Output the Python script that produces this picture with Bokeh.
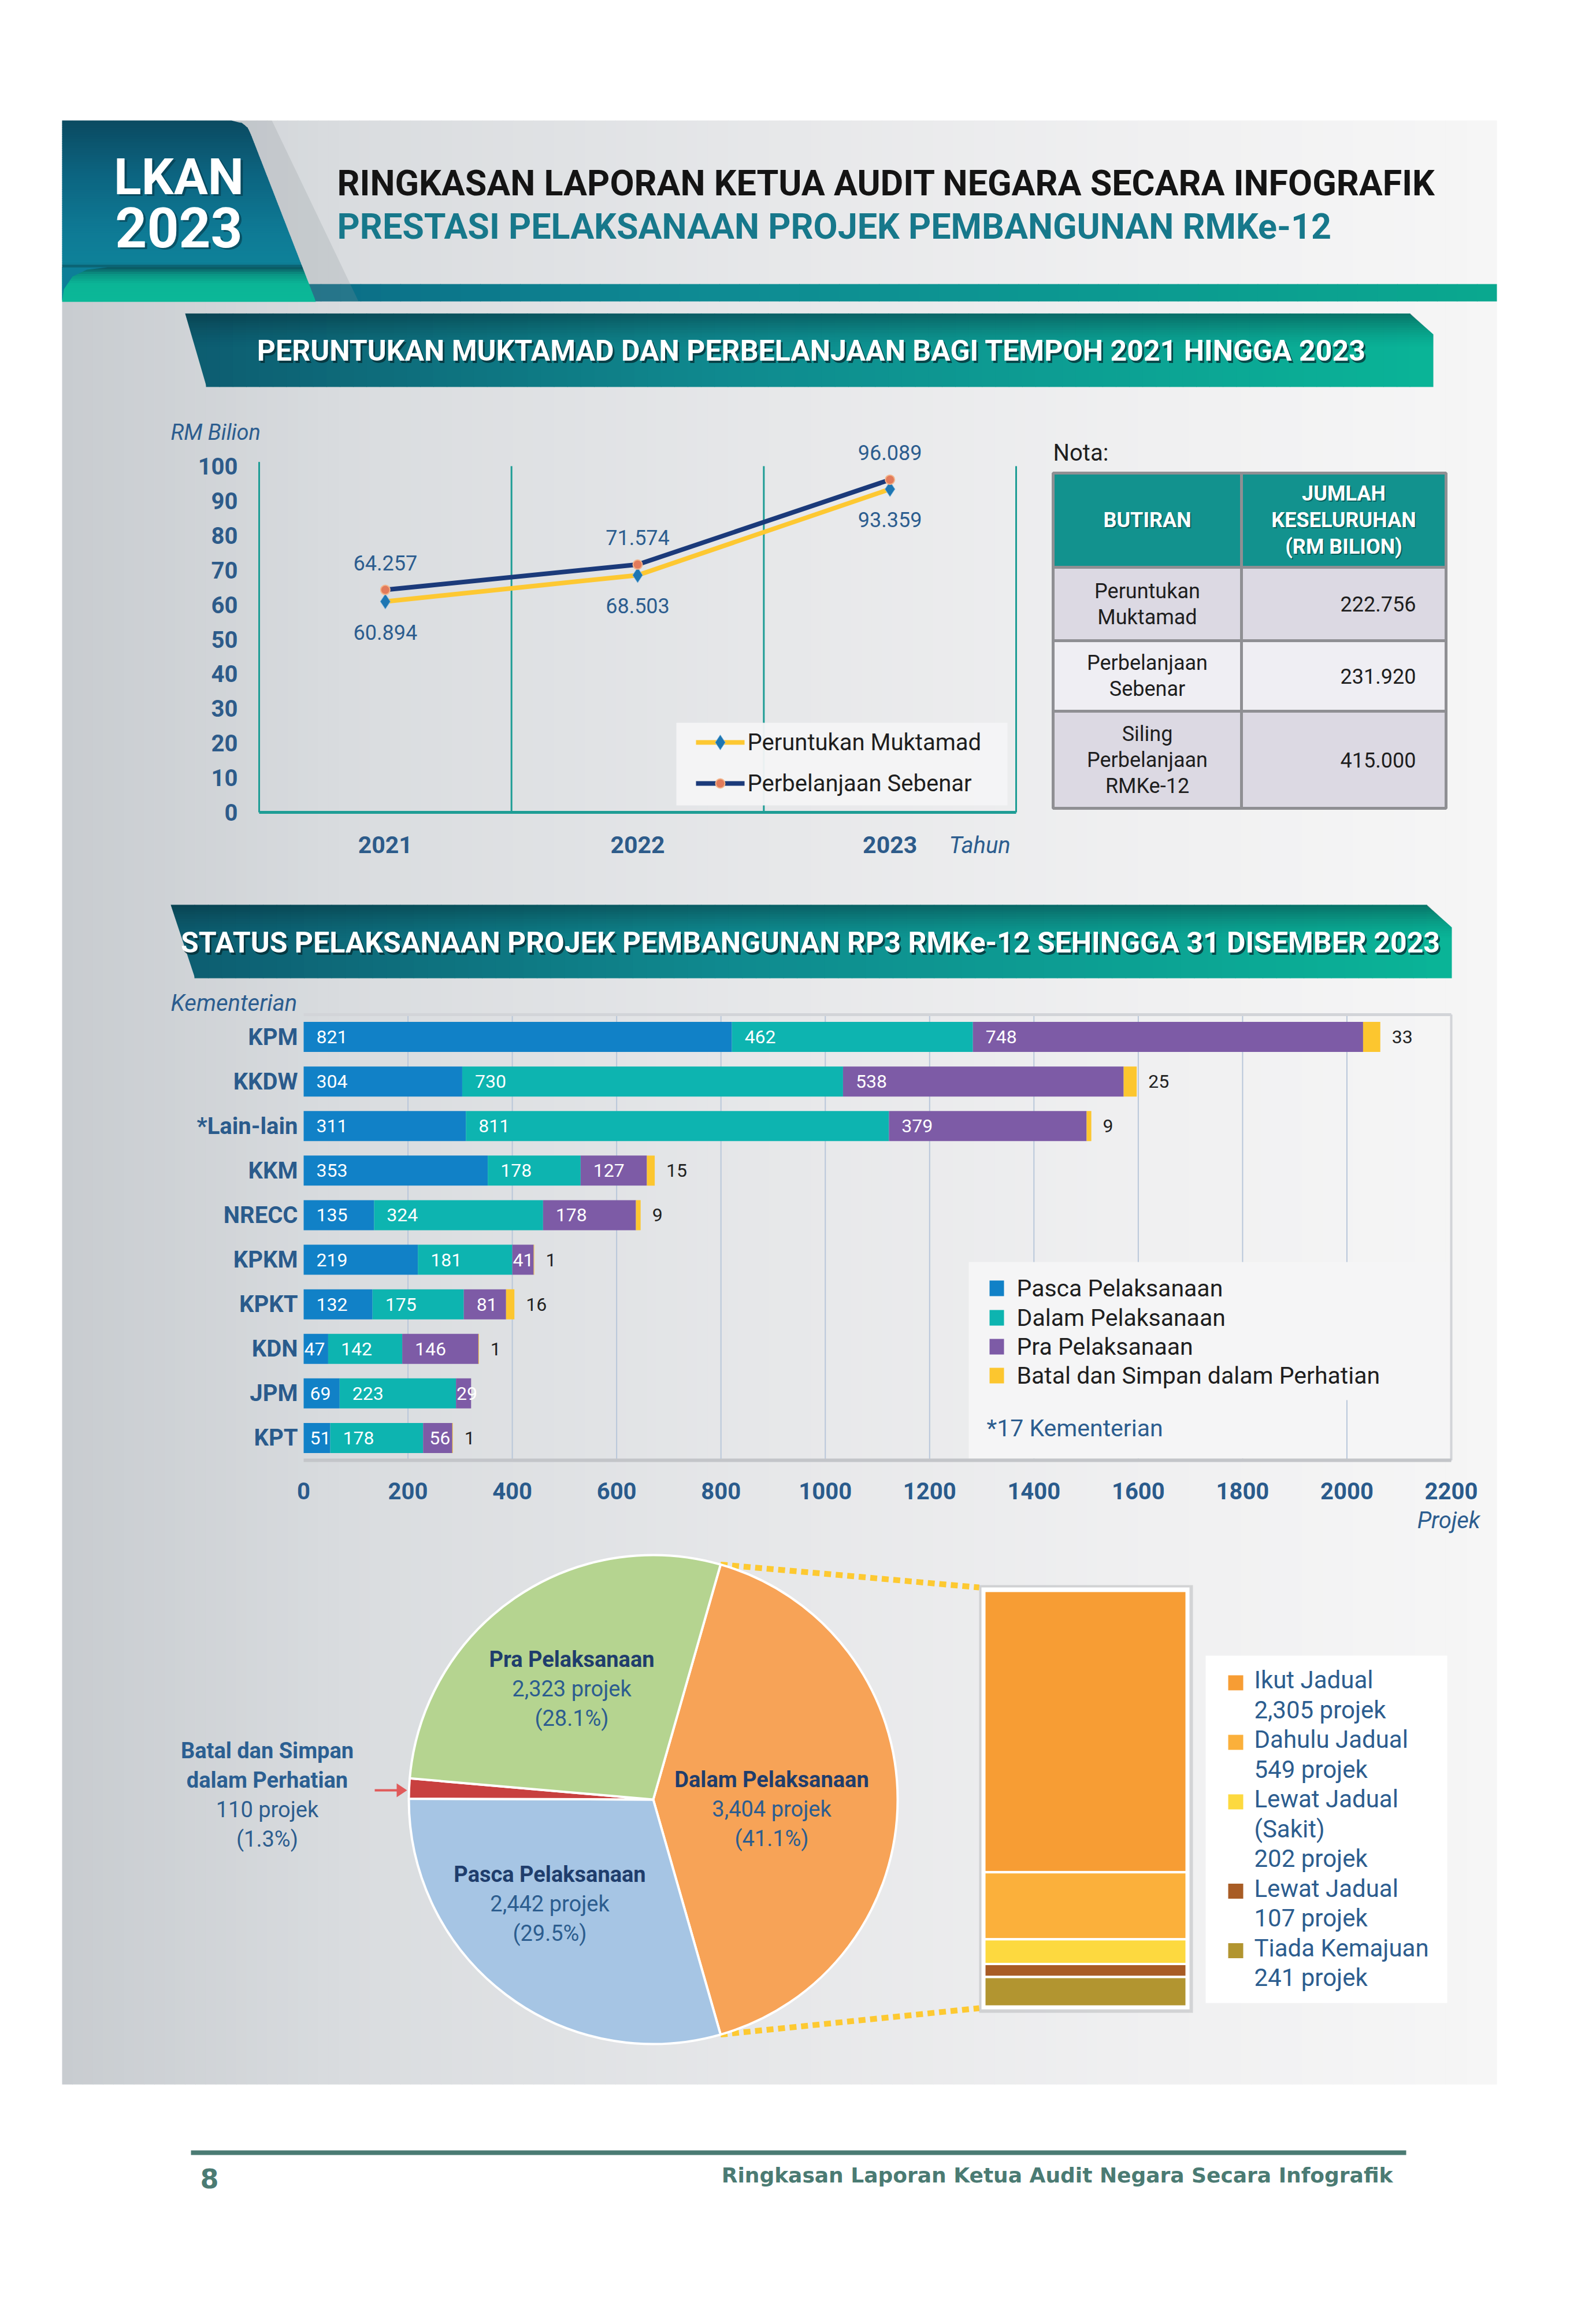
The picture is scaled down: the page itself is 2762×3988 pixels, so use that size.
import numpy as np
from bokeh.plotting import figure
from bokeh.models import Range1d, ColumnDataSource
from bokeh.core.properties import value
from bokeh.embed import file_html
from bokeh.resources import INLINE

# ---------------- data ----------------
years = ["2021", "2022", "2023"]
peruntukan_muktamad = [60.894, 68.503, 93.359]
perbelanjaan_sebenar = [64.257, 71.574, 96.089]
line_y_ticks = [0, 10, 20, 30, 40, 50, 60, 70, 80, 90, 100]
line_series_names = ["Peruntukan Muktamad", "Perbelanjaan Sebenar"]

table_header = [["BUTIRAN"], ["JUMLAH", "KESELURUHAN", "(RM BILION)"]]
table_items = [["Peruntukan", "Muktamad"], ["Perbelanjaan", "Sebenar"],
               ["Siling", "Perbelanjaan", "RMKe-12"]]
table_values = ["222.756", "231.920", "415.000"]

ministries = ["KPM", "KKDW", "*Lain-lain", "KKM", "NRECC", "KPKM", "KPKT", "KDN", "JPM", "KPT"]
pasca = [821, 304, 311, 353, 135, 219, 132, 47, 69, 51]
dalam = [462, 730, 811, 178, 324, 181, 175, 142, 223, 178]
pra = [748, 538, 379, 127, 178, 41, 81, 146, 29, 56]
batal = [33, 25, 9, 15, 9, 1, 16, 1, 0, 1]
bar_x_ticks = [0, 200, 400, 600, 800, 1000, 1200, 1400, 1600, 1800, 2000, 2200]
bar_series_names = ["Pasca Pelaksanaan", "Dalam Pelaksanaan", "Pra Pelaksanaan",
                    "Batal dan Simpan dalam Perhatian"]

pie_names = [["Dalam Pelaksanaan"], ["Pasca Pelaksanaan"],
             ["Batal dan Simpan", "dalam Perhatian"], ["Pra Pelaksanaan"]]
pie_values = [3404, 2442, 110, 2323]

dalam_names = [["Ikut Jadual"], ["Dahulu Jadual"], ["Lewat Jadual", "(Sakit)"],
               ["Lewat Jadual"], ["Tiada Kemajuan"]]
dalam_values = [2305, 549, 202, 107, 241]

# ---------------- page setup ----------------
W, H = 2762, 3988
FONT = "Roboto"
BLUE_TXT = "#2c5d8f"
NAVY_TXT = "#1f3d6c"
TEAL_LINE = "#1e9d95"
PANEL_R = 2590


def X(x):
    return float(x)


def Y(y):
    return float(H - y)


def hex2rgb(h):
    h = h.lstrip("#")
    return [int(h[i:i + 2], 16) for i in (0, 2, 4)]


def rgb2hex(c):
    return "#%02x%02x%02x" % tuple(int(round(v)) for v in c)


def grad(stops, t):
    ps_ = [s[0] for s in stops]
    rgbs = np.array([hex2rgb(s[1]) for s in stops], float)
    return rgb2hex([np.interp(t, ps_, rgbs[:, k]) for k in range(3)])


p = figure(width=W, height=H, x_range=Range1d(0, W), y_range=Range1d(0, H),
           x_axis_type=None, y_axis_type=None, output_backend="svg",
           toolbar_location=None, min_border=0)
p.outline_line_color = None
p.background_fill_color = "#ffffff"
p.border_fill_color = "#ffffff"


def data_ranges(name, dx0, dx1, px0, px1, dy0, dy1, py0, py1):
    """Linear data ranges whose values land on the given page positions."""
    kx = (dx1 - dx0) / (px1 - px0)
    ky = (dy1 - dy0) / (py1 - py0)
    p.extra_x_ranges[name] = Range1d(dx0 + (p.x_range.start - px0) * kx,
                                     dx0 + (p.x_range.end - px0) * kx)
    p.extra_y_ranges[name] = Range1d(dy0 + (p.y_range.start - py0) * ky,
                                     dy0 + (p.y_range.end - py0) * ky)
    return dict(x_range_name=name, y_range_name=name)


def T(xs, ys, texts, size, color="#222222", style="normal", align="left",
      baseline="middle", font=FONT, alpha=1.0):
    size = min(size, 96)
    if not isinstance(texts, (list, tuple)):
        texts = [texts]
    if not isinstance(xs, (list, tuple)):
        xs = [xs] * len(texts)
    if not isinstance(ys, (list, tuple)):
        ys = [ys] * len(texts)
    p.text(x=[X(v) for v in xs], y=[Y(v) for v in ys], text=list(texts),
           text_font=value(font), text_font_size=f"{size}px", text_font_style=style,
           text_color=color, text_align=align, text_baseline=baseline, text_alpha=alpha)


def Q(l, r, t, b, color, alpha=1.0, line_color=None, line_width=1):
    p.quad(left=[X(l)], right=[X(r)], top=[Y(t)], bottom=[Y(b)],
           fill_color=color, fill_alpha=alpha, line_color=line_color, line_width=line_width)


def hstrips(x0, x1, y0, y1, stops, n=80):
    xs = np.linspace(x0, x1, n + 1)
    cols = [grad(stops, (xs[i] + xs[i + 1]) / 2) for i in range(n)]
    rights = [X(v) + 0.8 for v in xs[1:]]
    rights[-1] = X(x1)
    p.quad(left=[X(v) for v in xs[:-1]], right=rights,
           top=[Y(y0)] * n, bottom=[Y(y1)] * n, fill_color=cols, line_color=None)


def banner_shape(xl_top, xl_bot, xr_top, xr_mid, y_top, y_mid, y_bot):
    stops = [(xl_top, "#0d5c70"), ((xl_top + xr_mid) * 0.45, "#0f8a8f"), (xr_mid, "#0ab497")]
    hstrips(xl_bot, xr_top, y_top, y_bot, stops, n=90)
    p.patch(x=[X(xl_top), X(xl_bot + 1), X(xl_bot + 1)], y=[Y(y_top), Y(y_top), Y(y_bot)],
            fill_color=grad(stops, xl_bot), line_color=None)
    p.patch(x=[X(xr_top - 1), X(xr_mid), X(xr_mid), X(xr_top - 1)],
            y=[Y(y_top), Y(y_mid), Y(y_bot), Y(y_bot)],
            fill_color=grad(stops, xr_mid), line_color=None)
    hh = y_bot - y_top
    nb = 14

    def lx(y):
        return xl_top + (xl_bot - xl_top) * (y - y_top) / (y_bot - y_top)

    def rx(y):
        return xr_top + (xr_mid - xr_top) * min(1.0, (y - y_top) / (y_mid - y_top))
    for i in range(nb):
        a0 = y_top + hh * 0.45 * i / nb
        a1 = y_top + hh * 0.45 * (i + 1) / nb
        p.patch(x=[X(lx(a0)), X(rx(a0)), X(rx(a1)), X(lx(a1))],
                y=[Y(a0), Y(a0), Y(a1), Y(a1)], fill_color="#04222a",
                fill_alpha=float(0.42 * (1 - i / nb) ** 1.5), line_color=None)


def banner_text(text, tx, ty, size):
    T(tx + 3, ty + 4, text, size, "#062a30", "bold", "center", alpha=0.75)
    T(tx, ty, text, size, "#ffffff", "bold", "center")


# ---------------- grey panel ----------------
hstrips(107, PANEL_R, 208, 3606, [(107, "#c8ccd0"), (600, "#d9dcdf"), (1300, "#e6e7e9"),
                                  (2000, "#f0f0f1"), (PANEL_R, "#f6f6f6")], n=140)

# ---------------- header ----------------
hstrips(520, PANEL_R, 491, 521, [(520, "#0b6c86"), (1200, "#0e8a93"), (PANEL_R, "#0aa88f")],
        n=60)
p.patch(x=[X(v) for v in [400, 470, 620, 546]], y=[Y(v) for v in [208, 208, 521, 521]],
        fill_color="#8a9296", fill_alpha=0.22, line_color=None)
edge_y = [208, 212, 220, 233, 521]
edge_x = [400, 418, 428, 434, 546]
box_stops = [(208, "#0b4a61"), (300, "#0c6480"), (400, "#0e7a95"), (455, "#0e8199"),
             (462, "#0a5562"), (474, "#0a9483"), (490, "#0bb596"), (521, "#0bb898")]
ys_ = np.linspace(208, 521, 80)
for i in range(len(ys_) - 1):
    y0, y1 = ys_[i], ys_[i + 1] + 0.8
    xr0, xr1 = np.interp(y0, edge_y, edge_x), np.interp(y1, edge_y, edge_x)
    p.patch(x=[X(107), X(xr0), X(xr1), X(107)], y=[Y(y0), Y(y0), Y(y1), Y(y1)],
            fill_color=grad(box_stops, (ys_[i] + ys_[i + 1]) / 2), line_color=None)
p.patch(x=[X(107), X(186), X(150), X(125), X(110), X(107)],
        y=[Y(462), Y(462), Y(466), Y(478), Y(500), Y(520)],
        fill_color="#0d7f98", line_color=None)
banner_shape(320, 356, 2440, 2480, 542, 578, 669)

# ---------------- line chart + table ----------------
col_x = [1822, 2148, 2502]
row_y = [818, 981, 1108, 1230, 1398]
row_fill = ["#12928e", "#dcd9e3", "#efeef3", "#dcd9e3"]
for r in range(4):
    for c in range(2):
        Q(col_x[c], col_x[c + 1], row_y[r], row_y[r + 1], row_fill[r],
          line_color="#8f8f93", line_width=5)

rnl = data_ranges("line", -0.5, len(years) - 0.5, X(448), X(1758), 0, 100, Y(1405), Y(806))
xi = list(range(len(years)))
bounds = [i - 0.5 for i in range(len(years) + 1)]
p.segment(x0=bounds, y0=[0] * len(bounds), x1=bounds, y1=[101.2] + [100] * (len(bounds) - 1),
          line_color=TEAL_LINE, line_width=3, **rnl)
p.segment(x0=[-0.5], y0=[0], x1=[len(years) - 0.5], y1=[0], line_color=TEAL_LINE,
          line_width=5, **rnl)
YEL, NAVY = "#fdc832", "#1b3a7a"
p.line(x=xi, y=peruntukan_muktamad, line_color=YEL, line_width=8, line_join="round", **rnl)
p.line(x=xi, y=perbelanjaan_sebenar, line_color=NAVY, line_width=8, line_join="round", **rnl)
p.scatter(x=xi, y=peruntukan_muktamad, marker="diamond", size=26, fill_color="#1d76b3",
          line_color="#7fb6dd", line_width=1, **rnl)
p.scatter(x=xi, y=perbelanjaan_sebenar, marker="circle", size=16, fill_color="#e27b5b",
          line_color="#f3b48a", line_width=2, **rnl)
Q(1170, 1743, 1250, 1393, "#f4f4f6", alpha=0.95)
p.line(x=[X(1204), X(1288)], y=[Y(1284), Y(1284)], line_color=YEL, line_width=8)
p.scatter(x=[X(1246)], y=[Y(1284)], marker="diamond", size=26, fill_color="#1d76b3",
          line_color="#7fb6dd")
p.line(x=[X(1204), X(1288)], y=[Y(1355), Y(1355)], line_color=NAVY, line_width=8)
p.scatter(x=[X(1246)], y=[Y(1355)], marker="circle", size=16, fill_color="#e27b5b",
          line_color="#f3b48a", line_width=2)

# ---------------- bar chart shapes ----------------
banner_shape(295, 336, 2469, 2512, 1565, 1604, 1692)
n = len(ministries)
rnb = data_ranges("bar", 0, 2200, X(525), X(2511), -0.5, n - 0.5, Y(1755), Y(2526))
yi = list(range(n))
p.segment(x0=bar_x_ticks[1:], y0=[-0.5] * (len(bar_x_ticks) - 1), x1=bar_x_ticks[1:],
          y1=[n - 0.5] * (len(bar_x_ticks) - 1), line_color="#b9c7da", line_width=2, **rnb)
p.segment(x0=[0], y0=[-0.5], x1=[2200], y1=[-0.5], line_color="#d2d4d8", line_width=5, **rnb)
Q(1676, 2509, 2183, 2523, "#f5f5f6")
p.segment(x0=[2000], y0=[8.15], x1=[2000], y1=[n - 0.5], line_color="#b9c7da",
          line_width=2, **rnb)
p.segment(x0=[2200], y0=[-0.5], x1=[2200], y1=[n - 0.5], line_color="#d2d4d8",
          line_width=4, **rnb)
p.segment(x0=[0], y0=[n - 0.5], x1=[2200], y1=[n - 0.5], line_color="#c3c5c9",
          line_width=6, **rnb)
cols_bar = ["#1181c7", "#0db4b0", "#7d5ba6", "#fcc62f"]
series = [pasca, dalam, pra, batal]
lefts = np.zeros(n)
ppu = (2511 - 525) / 2200
label_sources = []
for k, s in enumerate(series):
    s = np.array(s, float)
    p.hbar(y=yi, left=[float(v) for v in lefts], right=[float(v) for v in lefts + s],
           height=0.675, fill_color=cols_bar[k], line_color=None, **rnb)
    if k < 3:
        offs = [22 if v * ppu > 65 else (11 if v * ppu > 44 else 1) for v in s]
        label_sources.append(ColumnDataSource(dict(x=[float(v) for v in lefts], y=yi,
                                                   t=[str(int(v)) for v in s], o=offs)))
    lefts = lefts + s
leg_y = [2228, 2279, 2329, 2379]
for k in range(4):
    Q(1712, 1737, leg_y[k] - 13, leg_y[k] + 14, cols_bar[k])

# ---------------- pie + breakdown shapes ----------------
PCX, PCY, PR = 1130, 3113, 423
tot = float(sum(pie_values))
ang = np.array(pie_values) / tot * 2 * np.pi
theta0 = float(ang[0] / 2)
ends = theta0 - np.cumsum(ang)
starts = np.concatenate([[theta0], ends[:-1]])
top_pt = (PCX + PR * np.cos(theta0), PCY - PR * np.sin(theta0))
bot_pt = (PCX + PR * np.cos(-theta0), PCY - PR * np.sin(-theta0))
p.line(x=[X(top_pt[0]), X(1694)], y=[Y(top_pt[1]), Y(2746)],
       line_color="#fdc931", line_width=10, line_dash="12 8")
p.line(x=[X(bot_pt[0]), X(1694)], y=[Y(bot_pt[1]), Y(3474)],
       line_color="#fdc931", line_width=10, line_dash="12 8")
rnp = data_ranges("pie", -1, 1, X(PCX - PR), X(PCX + PR), -1, 1, Y(PCY + PR), Y(PCY - PR))
pie_cols = ["#f7a357", "#a6c5e4", "#c8403f", "#b5d490"]
p.wedge(x=[0.0] * 4, y=[0.0] * 4, radius=1, start_angle=[float(v) for v in starts],
        end_angle=[float(v) for v in ends], direction="clock", fill_color=pie_cols,
        line_color="#ffffff", line_width=4, **rnp)
p.line(x=[X(648), X(690)], y=[Y(3097), Y(3097)], line_color="#e05a5a", line_width=4)
p.patch(x=[X(686), X(704), X(686)], y=[Y(3085), Y(3097), Y(3109)], fill_color="#e05a5a",
        line_color=None)
Q(1694, 2064, 2742, 3482, "#8f9296", alpha=0.3)
Q(1698, 2058, 2746, 3476, "#ffffff")
dtot = float(sum(dalam_values))
rns = data_ranges("stack", 0, 1, X(1703), X(2053), 0, dtot, Y(3471), Y(2752))
cum = np.cumsum(dalam_values)
tops = dtot - cum + np.array(dalam_values)
bots = dtot - cum
st_cols = ["#f79d34", "#fbb03b", "#fdd93f", "#a85c25", "#b29530"]
p.quad(left=[0.0] * 5, right=[1.0] * 5, top=[float(v) for v in tops],
       bottom=[float(v) for v in bots], fill_color=st_cols, line_color="#ffffff",
       line_width=4, **rns)
Q(2086, 2504, 2864, 3465, "#ffffff")
yline = 2906
leg_lines = []
for k in range(len(dalam_values)):
    lines = dalam_names[k] + [f"{dalam_values[k]:,} projek"]
    Q(2125, 2151, yline - 8, yline + 18, st_cols[k])
    leg_lines.append((yline, lines))
    yline += 51.5 * len(lines)

# ---------------- footer shape ----------------
Q(330, 2433, 3720, 3728, "#4b7b73")

# =============== all texts ===============
T(313, 308, "LKAN", 88, "#06323f", "bold", "center", alpha=0.55)
T(309, 305, "LKAN", 88, "#ffffff", "bold", "center")
T(313, 396, "2023", 96, "#06323f", "bold", "center", alpha=0.55)
T(309, 393, "2023", 96, "#ffffff", "bold", "center")
T(583, 316, "RINGKASAN LAPORAN KETUA AUDIT NEGARA SECARA INFOGRAFIK", 61, "#141414", "bold")
T(583, 391, "PRESTASI PELAKSANAAN PROJEK PEMBANGUNAN RMKe-12", 61, "#17788b", "bold")
banner_text("PERUNTUKAN MUKTAMAD DAN PERBELANJAAN BAGI TEMPOH 2021 HINGGA 2023", 1404, 606, 50)

p.text(x=[-0.5] * len(line_y_ticks), y=line_y_ticks, text=[str(t) for t in line_y_ticks],
       x_offset=-37, text_align="right", text_baseline="middle", text_font=value(FONT),
       text_font_size="40px", text_font_style="bold", text_color="#2d5b8a", **rnl)
p.text(x=xi, y=[0] * len(xi), text=years, y_offset=56, text_align="center",
       text_baseline="middle", text_font=value(FONT), text_font_size="41px",
       text_font_style="bold", text_color="#2d5b8a", **rnl)
p.text(x=xi, y=perbelanjaan_sebenar, text=[f"{v:.3f}" for v in perbelanjaan_sebenar],
       y_offset=-47, text_align="center", text_baseline="middle", text_font=value(FONT),
       text_font_size="36px", text_color=BLUE_TXT, **rnl)
p.text(x=xi, y=peruntukan_muktamad, text=[f"{v:.3f}" for v in peruntukan_muktamad],
       y_offset=53, text_align="center", text_baseline="middle", text_font=value(FONT),
       text_font_size="36px", text_color=BLUE_TXT, **rnl)
T([1293, 1293], [1284, 1355], line_series_names, 40, "#1e1e1e")
T(295, 747, "RM Bilion", 38, BLUE_TXT, "italic")
T(1642, 1462, "Tahun", 40, BLUE_TXT, "italic")
T(1822, 783, "Nota:", 40, "#1e1e1e")
cx = [(col_x[0] + col_x[1]) / 2, (col_x[1] + col_x[2]) / 2]
for c, lines in enumerate(table_header):
    cy = (row_y[0] + row_y[1]) / 2
    yy = [cy + (k - (len(lines) - 1) / 2) * 46 for k in range(len(lines))]
    T([cx[c] + 2] * len(lines), [v + 2 for v in yy], lines, 36, "#064a48", "bold", "center",
      alpha=0.7)
    T([cx[c]] * len(lines), yy, lines, 36, "#ffffff", "bold", "center")
for r, lines in enumerate(table_items):
    cy = (row_y[r + 1] + row_y[r + 2]) / 2
    yy = [cy + (k - (len(lines) - 1) / 2) * 45 for k in range(len(lines))]
    T([cx[0]] * len(lines), yy, lines, 36, "#1e1e1e", "normal", "center")
    T(2450, cy, table_values[r], 36, "#1e1e1e", "normal", "right")

for src in label_sources:
    p.text(x="x", y="y", text="t", x_offset="o", source=src, text_align="left",
           text_baseline="middle", text_font=value(FONT), text_font_size="32px",
           text_color="#ffffff", **rnb)
keep = [i for i in range(n) if batal[i] > 0]
p.text(x=[float(lefts[i]) for i in keep], y=[yi[i] for i in keep],
       text=[str(batal[i]) for i in keep], x_offset=20, text_align="left",
       text_baseline="middle", text_font=value(FONT), text_font_size="32px",
       text_color="#222222", **rnb)
p.text(x=[0] * n, y=yi, text=ministries, x_offset=-10, text_align="right",
       text_baseline="middle", text_font=value(FONT), text_font_size="40px",
       text_font_style="bold", text_color="#2a5b8c", **rnb)
p.text(x=bar_x_ticks, y=[n - 0.5] * len(bar_x_ticks), text=[str(t) for t in bar_x_ticks],
       y_offset=53, text_align="center", text_baseline="middle", text_font=value(FONT),
       text_font_size="40px", text_font_style="bold", text_color="#2a5b8c", **rnb)
banner_text("STATUS PELAKSANAAN PROJEK PEMBANGUNAN RP3 RMKe-12 SEHINGGA 31 DISEMBER 2023",
            1402, 1630, 50)
T(295, 1735, "Kementerian", 40, BLUE_TXT, "italic")
T(2561, 2630, "Projek", 40, BLUE_TXT, "italic", "right")
T([1759] * 4, leg_y, bar_series_names, 41, "#1e1e1e")
T(1707, 2470, "*17 Kementerian", 41, BLUE_TXT)

pie_pos = [(1335, 3078), (951, 3242), (462, 3028), (989, 2870)]
for k in range(4):
    x0, y0 = pie_pos[k]
    lines = pie_names[k]
    T([x0] * len(lines), [y0 + 51 * j for j in range(len(lines))], lines, 38,
      NAVY_TXT if k != 2 else "#2b5f92", "bold", "center")
    yb = y0 + 51 * len(lines)
    T([x0, x0], [yb, yb + 51],
      [f"{pie_values[k]:,} projek", f"({pie_values[k] / tot * 100:.1f}%)"], 38, BLUE_TXT,
      "normal", "center")
for yl, lines in leg_lines:
    T([2170] * len(lines), [yl + 51.5 * j for j in range(len(lines))], lines, 42, BLUE_TXT)

T(346, 3768, "8", 46, "#4b7b73", "bold", "left", font="DejaVu Sans")
T(2410, 3763, "Ringkasan Laporan Ketua Audit Negara Secara Infografik", 36, "#4b7b73",
  "bold", "right", font="DejaVu Sans")

open("out.html", "w").write(file_html(p, INLINE))
